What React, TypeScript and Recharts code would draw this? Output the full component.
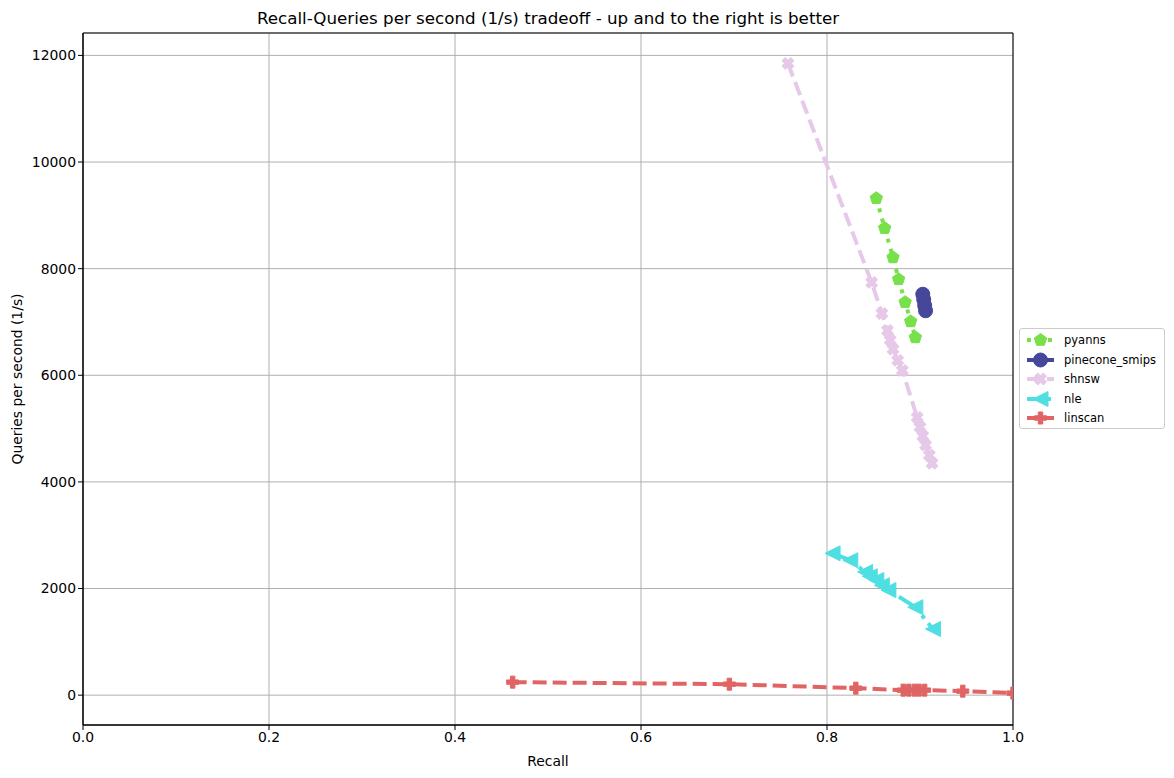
import React from "react";
import {
  ScatterChart,
  Scatter,
  XAxis,
  YAxis,
  CartesianGrid,
  ReferenceArea,
  Legend,
} from "recharts";

const seriesNames = ["pyanns", "pinecone_smips", "shnsw", "nle", "linscan"];

const pyannsRecall = [0.853, 0.862, 0.871, 0.877, 0.884, 0.890, 0.895];
const pyannsQps = [9320, 8760, 8210, 7800, 7370, 7010, 6710];

const pineconeRecall = [0.903, 0.904, 0.905, 0.906];
const pineconeQps = [7520, 7420, 7310, 7210];

const shnswRecall = [0.758, 0.848, 0.859, 0.865, 0.868, 0.871, 0.876, 0.881, 0.897, 0.900, 0.903, 0.906, 0.910, 0.913];
const shnswQps = [11850, 7740, 7160, 6840, 6660, 6490, 6280, 6090, 5210, 5030, 4860, 4690, 4500, 4350];

const nleRecall = [0.806, 0.825, 0.841, 0.846, 0.853, 0.859, 0.866, 0.895, 0.914];
const nleQps = [2660, 2530, 2310, 2230, 2160, 2060, 1970, 1650, 1240];

const linscanRecall = [0.462, 0.695, 0.831, 0.882, 0.888, 0.894, 0.899, 0.905, 0.946, 1.0];
const linscanQps = [244, 206, 131, 94, 94, 94, 94, 94, 75, 38];

const xTicks = [0, 0.2, 0.4, 0.6, 0.8, 1.0];
const yTicks = [0, 2000, 4000, 6000, 8000, 10000, 12000];

const toPoints = (xs: number[], ys: number[]) => xs.map((x, i) => ({ x, y: ys[i] }));

const FONT = "'DejaVu Sans', sans-serif";

type Kind = "pentagon" | "circle" | "x" | "left" | "plus";

function markerPath(kind: Kind, cx: number, cy: number, color: string) {
  if (kind === "circle") {
    return <circle cx={cx} cy={cy} r={7} fill={color} stroke={color} />;
  }
  if (kind === "pentagon") {
    const r = 6.5;
    const pts = [0, 1, 2, 3, 4]
      .map((k) => {
        const a = (-90 + k * 72) * (Math.PI / 180);
        return `${cx + r * Math.cos(a)},${cy + r * Math.sin(a)}`;
      })
      .join(" ");
    return <polygon points={pts} fill={color} stroke={color} />;
  }
  if (kind === "left") {
    const h = 7.5;
    const pts = `${cx - h},${cy} ${cx + h},${cy - h} ${cx + h},${cy + h}`;
    return <polygon points={pts} fill={color} stroke={color} />;
  }
  if (kind === "plus") {
    const s = 6;
    const t = 2.2;
    const d = `M${cx - t},${cy - s} H${cx + t} V${cy - t} H${cx + s} V${cy + t} H${cx + t} V${cy + s} H${cx - t} V${cy + t} H${cx - s} V${cy - t} H${cx - t} Z`;
    return <path d={d} fill={color} stroke={color} />;
  }
  // filled X
  const s = 6;
  const t = 2.2;
  const d = `M${cx - t},${cy - s} H${cx + t} V${cy - t} H${cx + s} V${cy + t} H${cx + t} V${cy + s} H${cx - t} V${cy + t} H${cx - s} V${cy - t} H${cx - t} Z`;
  return <path d={d} fill={color} stroke={color} transform={`rotate(45 ${cx} ${cy})`} />;
}

const seriesStyle = [
  { name: seriesNames[0], color: "#77e04a", dash: "4 6.5", kind: "pentagon" as Kind, data: toPoints(pyannsRecall, pyannsQps) },
  { name: seriesNames[1], color: "#46469a", dash: undefined, kind: "circle" as Kind, data: toPoints(pineconeRecall, pineconeQps) },
  { name: seriesNames[2], color: "#e6c8e8", dash: "14 6", kind: "x" as Kind, data: toPoints(shnswRecall, shnswQps) },
  { name: seriesNames[3], color: "#4fdfe2", dash: "24 6 4 6", kind: "left" as Kind, data: toPoints(nleRecall, nleQps) },
  { name: seriesNames[4], color: "#e06464", dash: "14 6", kind: "plus" as Kind, data: toPoints(linscanRecall, linscanQps) },
];

const LegendBox = () => (
  <div
    style={{
      width: 144,
      height: 99,
      border: "1px solid #cccccc",
      borderRadius: 3,
      background: "rgba(255,255,255,0.8)",
      position: "relative",
      fontFamily: FONT,
      fontSize: 11.5,
      color: "#000",
    }}
  >
    {seriesStyle.map((s, i) => (
      <div
        key={s.name}
        style={{ position: "absolute", left: 0, top: 2 + i * 19.5, height: 18, display: "flex", alignItems: "center" }}
      >
        <svg width={42} height={18} style={{ display: "block" }}>
          <line x1={7} y1={9} x2={34} y2={9} stroke={s.color} strokeWidth={4} strokeDasharray={s.dash} />
          {markerPath(s.kind, 20.5, 9, s.color)}
        </svg>
        <span style={{ marginLeft: 2, whiteSpace: "nowrap" }}>{s.name}</span>
      </div>
    ))}
  </div>
);

const YLabel = (props: any) => {
  const vb = props.viewBox || { x: 0, y: 0, width: 0, height: 0 };
  const cx = 9;
  const cy = vb.y + vb.height / 2;
  return (
    <text
      x={cx}
      y={cy}
      transform={`rotate(-90 ${cx} ${cy})`}
      textAnchor="middle"
      dominantBaseline="central"
      fontFamily={FONT}
      fontSize={13.9}
      fill="#000"
    >
      Queries per second (1/s)
    </text>
  );
};

const XLabel = (props: any) => {
  const vb = props.viewBox || { x: 0, y: 0, width: 0, height: 0 };
  return (
    <text
      x={vb.x + vb.width / 2}
      y={753}
      textAnchor="middle"
      dominantBaseline="central"
      fontFamily={FONT}
      fontSize={13.9}
      fill="#000"
    >
      Recall
    </text>
  );
};

export default function App() {
  return (
    <div style={{ position: "relative", width: 1166, height: 762 }}>
      <div
        style={{
          position: "absolute",
          left: 75,
          width: 930,
          top: 0,
          textAlign: "center",
          fontFamily: FONT,
          fontSize: 16.7,
          lineHeight: "20px",
          color: "#000",
        }}
      >
        Recall-Queries per second (1/s) tradeoff - up and to the right is better
      </div>
      <ScatterChart
        width={1166}
        height={762}
        margin={{ top: 25, right: 161, left: 15, bottom: 15 }}
        style={{ fontFamily: FONT }}
      >
        <CartesianGrid stroke="#b0b0b0" strokeWidth={1} />
        <XAxis
          type="number"
          dataKey="x"
          domain={[0, 1]}
          ticks={xTicks}
          allowDataOverflow
          tickFormatter={(v: number) => v.toFixed(1)}
          height={30}
          stroke="#000"
          tickSize={5}
          tick={{ fill: "#000", fontSize: 13.9, fontFamily: FONT }}
          tickLine={{ stroke: "#000" }}
          axisLine={{ stroke: "#000" }}
          label={<XLabel />}
        />
        <YAxis
          type="number"
          dataKey="y"
          domain={[-560, 12420]}
          ticks={yTicks}
          allowDataOverflow
          width={60}
          stroke="#000"
          tickSize={5}
          tick={{ fill: "#000", fontSize: 13.9, fontFamily: FONT }}
          tickLine={{ stroke: "#000" }}
          axisLine={{ stroke: "#000" }}
          label={<YLabel />}
        />
        {seriesStyle.map((s) => (
          <Scatter
            key={s.name}
            name={s.name}
            data={s.data}
            isAnimationActive={false}
            fill={s.color}
            line={{ stroke: s.color, strokeWidth: 4, strokeDasharray: s.dash }}
            lineType="joint"
            shape={(p: any) => markerPath(s.kind, p.cx, p.cy, s.color)}
          />
        ))}
        <ReferenceArea x1={0} x2={1} y1={-560} y2={12420} fill="none" stroke="#000" strokeWidth={1} ifOverflow="visible" />
        <Legend
          layout="horizontal"
          align="center"
          verticalAlign="middle"
          content={() => <LegendBox />}
          wrapperStyle={{ left: 1011, top: 320, width: 146, height: 101 }}
        />
      </ScatterChart>
    </div>
  );
}
